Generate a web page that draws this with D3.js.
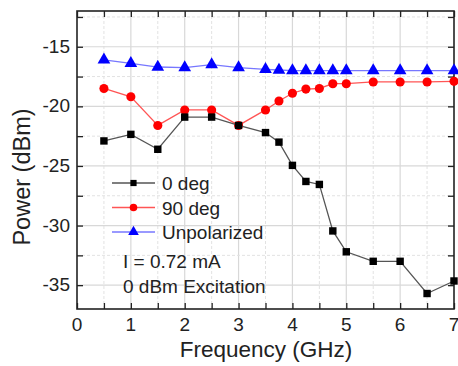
<!DOCTYPE html>
<html>
<head>
<meta charset="utf-8">
<script src="https://cdn.jsdelivr.net/npm/d3@7"></script>
<style>
  body { margin: 0; background: #fff; }
  svg { font-family: "Liberation Sans", Arial, sans-serif; }
</style>
</head>
<body>
<div id="svg-container"></div>
<script>
// data
const freq = [0.5, 1, 1.5, 2, 2.5, 3, 3.5, 3.75, 4, 4.25, 4.5, 4.75, 5, 5.5, 6, 6.5, 7];
const deg0 = [-22.9, -22.35, -23.6, -20.9, -20.9, -21.6, -22.2, -23.0, -24.95, -26.3, -26.55, -30.45, -32.2, -33.0, -33.0, -35.7, -34.65];
const deg90 = [-18.5, -19.2, -21.6, -20.3, -20.3, -21.6, -20.3, -19.55, -18.9, -18.55, -18.5, -18.1, -18.1, -17.95, -17.95, -17.95, -17.9];
const unpol = [-16.1, -16.4, -16.7, -16.75, -16.5, -16.75, -16.9, -16.95, -17.0, -17.0, -17.0, -17.0, -17.0, -17.0, -17.0, -17.0, -17.0];
const xTicks = [0, 1, 2, 3, 4, 5, 6, 7];
const yTicks = [-35, -30, -25, -20, -15];
const seriesNames = ["0 deg", "90 deg", "Unpolarized"];
const notes = ["I = 0.72 mA", "0 dBm Excitation"];

////////////////////////////  Init  ///////////////////////////////
const width = 458, height = 366;
const margin = { top: 11, right: 4, bottom: 57, left: 77 };

const svg = d3.select("#svg-container").append("svg")
  .attr("width", width).attr("height", height);

const xScale = d3.scaleLinear().domain([0, 7]).range([margin.left, width - margin.right]);
const yScale = d3.scaleLinear().domain([-37, -12]).range([height - margin.bottom, margin.top]);

const x0 = xScale.range()[0], x1 = xScale.range()[1];
const y0 = yScale.range()[0], y1 = yScale.range()[1];

// grid
const xMinor = d3.range(0.5, 7, 1);
const yMinor = d3.range(-37.5, -12, 5).filter(v => v > -37);
const grid = svg.append("g");
grid.selectAll(".gxM").data(xTicks.slice(1, -1)).join("line")
  .attr("x1", d => xScale(d)).attr("x2", d => xScale(d))
  .attr("y1", y0).attr("y2", y1)
  .attr("stroke", "#d8d8d8").attr("stroke-width", 1.2);
grid.selectAll(".gxm").data(xMinor).join("line")
  .attr("x1", d => xScale(d)).attr("x2", d => xScale(d))
  .attr("y1", y0).attr("y2", y1)
  .attr("stroke", "#e2e2e2").attr("stroke-dasharray", "3,2");
grid.selectAll(".gyM").data(yTicks).join("line")
  .attr("y1", d => yScale(d)).attr("y2", d => yScale(d))
  .attr("x1", x0).attr("x2", x1)
  .attr("stroke", "#d8d8d8").attr("stroke-width", 1.2);
grid.selectAll(".gym").data(yMinor).join("line")
  .attr("y1", d => yScale(d)).attr("y2", d => yScale(d))
  .attr("x1", x0).attr("x2", x1)
  .attr("stroke", "#e2e2e2").attr("stroke-dasharray", "3,2");

// axes (inward ticks on all sides)
const xAll = d3.range(0, 7.01, 0.5);
const yAll = d3.range(-35, -12, 2.5);
function ticks(axis, scale, vals, pos) {
  svg.append("g").attr("transform", pos)
    .call(axis(scale).tickValues(vals).tickSize(-6).tickFormat(""))
    .call(g => g.select(".domain").remove())
    .call(g => g.selectAll("line").attr("stroke", "#222").attr("stroke-width", 1.3));
}
ticks(d3.axisBottom, xScale, xAll, `translate(0,${y0})`);
ticks(d3.axisTop, xScale, xAll, `translate(0,${y1})`);
ticks(d3.axisLeft, yScale, yAll, `translate(${x0},0)`);
ticks(d3.axisRight, yScale, yAll, `translate(${x1},0)`);

// frame
svg.append("rect").attr("x", x0).attr("y", y1)
  .attr("width", x1 - x0).attr("height", y0 - y1)
  .attr("fill", "none").attr("stroke", "#222").attr("stroke-width", 1.6);

// tick labels
svg.append("g").selectAll("text").data(xTicks).join("text")
  .attr("x", d => xScale(d)).attr("y", y0 + 22)
  .attr("text-anchor", "middle").attr("font-size", 19).attr("fill", "#222")
  .text(d => d);
svg.append("g").selectAll("text").data(yTicks).join("text")
  .attr("x", x0 - 7).attr("y", d => yScale(d) + 6)
  .attr("text-anchor", "end").attr("font-size", 19).attr("fill", "#222")
  .text(d => d);

// axis titles
svg.append("text").attr("x", 266).attr("y", 357)
  .attr("text-anchor", "middle").attr("font-size", 22.5).attr("fill", "#222")
  .text("Frequency (GHz)");
svg.append("text").attr("transform", `translate(30,177) rotate(-90)`)
  .attr("text-anchor", "middle").attr("font-size", 23.5).attr("fill", "#222")
  .text("Power (dBm)");

// series
const series = [
  { name: seriesNames[0], values: deg0, line: "#555", fill: "#000", shape: d3.symbolSquare, size: 55 },
  { name: seriesNames[1], values: deg90, line: "#ff5555", fill: "#ff0000", shape: d3.symbolCircle, size: 65 },
  { name: seriesNames[2], values: unpol, line: "#7777ff", fill: "#0000ff", shape: d3.symbolTriangle, size: 70 }
];

const line = d3.line().x((d, i) => xScale(freq[i])).y(d => yScale(d));

series.slice().reverse().forEach(s => {
  svg.append("path").datum(s.values).attr("d", line)
    .attr("fill", "none").attr("stroke", s.line).attr("stroke-width", 1.3);
  svg.append("g").selectAll("path").data(s.values).join("path")
    .attr("transform", (d, i) => `translate(${xScale(freq[i])},${yScale(d)})`)
    .attr("d", d3.symbol().type(s.shape).size(s.size))
    .attr("fill", s.fill);
});

// legend
const legend = svg.append("g");
series.forEach((s, i) => {
  const ly = 183 + i * 24.5;
  legend.append("line").attr("x1", 112).attr("x2", 155).attr("y1", ly).attr("y2", ly)
    .attr("stroke", s.line).attr("stroke-width", 1.3);
  legend.append("path").attr("transform", `translate(133.5,${ly})`)
    .attr("d", d3.symbol().type(s.shape).size(s.size * 0.7)).attr("fill", s.fill);
  legend.append("text").attr("x", 162).attr("y", ly + 7)
    .attr("font-size", 19).attr("fill", "#222").text(s.name);
});
notes.forEach((t, i) => {
  legend.append("text").attr("x", 123).attr("y", 268 + i * 24.5)
    .attr("font-size", 19).attr("fill", "#222").text(t);
});
</script>
</body>
</html>
